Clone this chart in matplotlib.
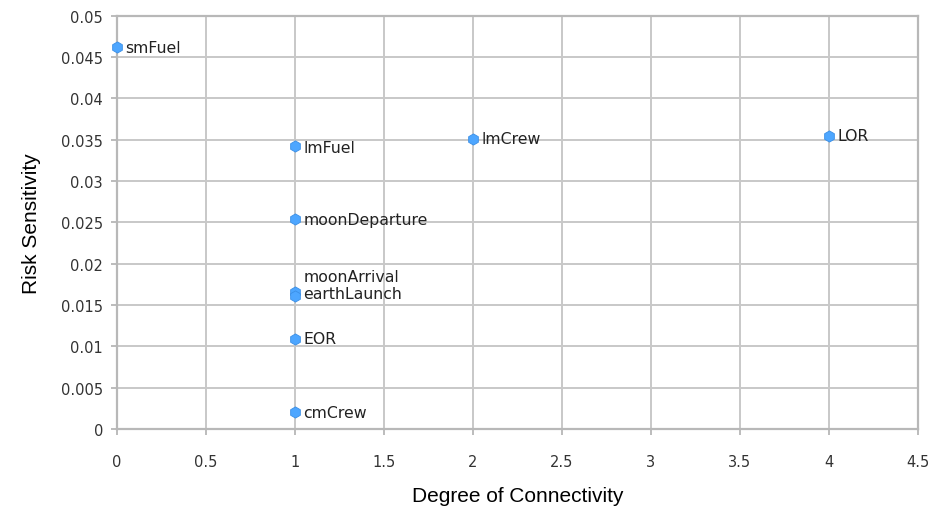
import matplotlib
matplotlib.use('Agg')
import matplotlib.pyplot as plt

names = ['smFuel', 'lmFuel', 'lmCrew', 'LOR', 'moonDeparture',
         'moonArrival', 'earthLaunch', 'EOR', 'cmCrew']
degree = [0, 1, 2, 4, 1, 1, 1, 1, 1]
risk = [0.0462, 0.0342, 0.0351, 0.0355, 0.0254, 0.0166, 0.0161, 0.0109, 0.0020]

# label offsets in points (dx, dy)
offsets = {'moonArrival': (6, 11), 'earthLaunch': (6, 2), 'lmFuel': (6, -1), 'lmCrew': (6, 0)}

x_ticks = [0, 0.5, 1, 1.5, 2, 2.5, 3, 3.5, 4, 4.5]
y_ticks = [0, 0.005, 0.01, 0.015, 0.02, 0.025, 0.03, 0.035, 0.04, 0.045, 0.05]

fig = plt.figure(figsize=(9.47, 5.10), dpi=100)
ax = fig.add_axes([0.1235, 0.157, 0.8455, 0.81])

ax.scatter(degree, risk, marker='h', s=65, color='#4da6ff', edgecolors='#3a8fe6',
           linewidths=0.6, zorder=3, clip_on=False)

for n, x, y in zip(names, degree, risk):
    dx, dy = offsets.get(n, (6, 0))
    ax.annotate(n, (x, y), xytext=(dx, dy), textcoords='offset points',
                ha='left', va='center', fontsize=11.3, color='#222222',
                family='DejaVu Sans')

ax.set_xlim(0, 4.5)
ax.set_ylim(0, 0.05)
ax.set_xticks(x_ticks)
ax.set_xticklabels(['0', '0.5', '1', '1.5', '2', '2.5', '3', '3.5', '4', '4.5'])
ax.set_yticks(y_ticks)
ax.set_yticklabels(['0', '0.005', '0.01', '0.015', '0.02', '0.025', '0.03',
                    '0.035', '0.04', '0.045', '0.05'])
ax.tick_params(labelsize=10.5, colors='#b0b0b0', labelcolor='#333333', length=4,
               width=1.2)
ax.tick_params(axis='x', pad=14)
ax.tick_params(axis='y', pad=6)
for lab in ax.get_xticklabels() + ax.get_yticklabels():
    lab.set_family('DejaVu Sans')

ax.grid(True, color='#c8c8c8', linewidth=1.4)
ax.set_axisbelow(True)
for side in ax.spines.values():
    side.set_color('#b8b8b8')
    side.set_linewidth(1.6)

ax.set_xlabel('Degree of Connectivity', fontsize=15, family='Liberation Sans', labelpad=12)
ax.set_ylabel('Risk Sensitivity', fontsize=15, family='Liberation Sans', labelpad=14)

fig.savefig('out.png', dpi=100)
